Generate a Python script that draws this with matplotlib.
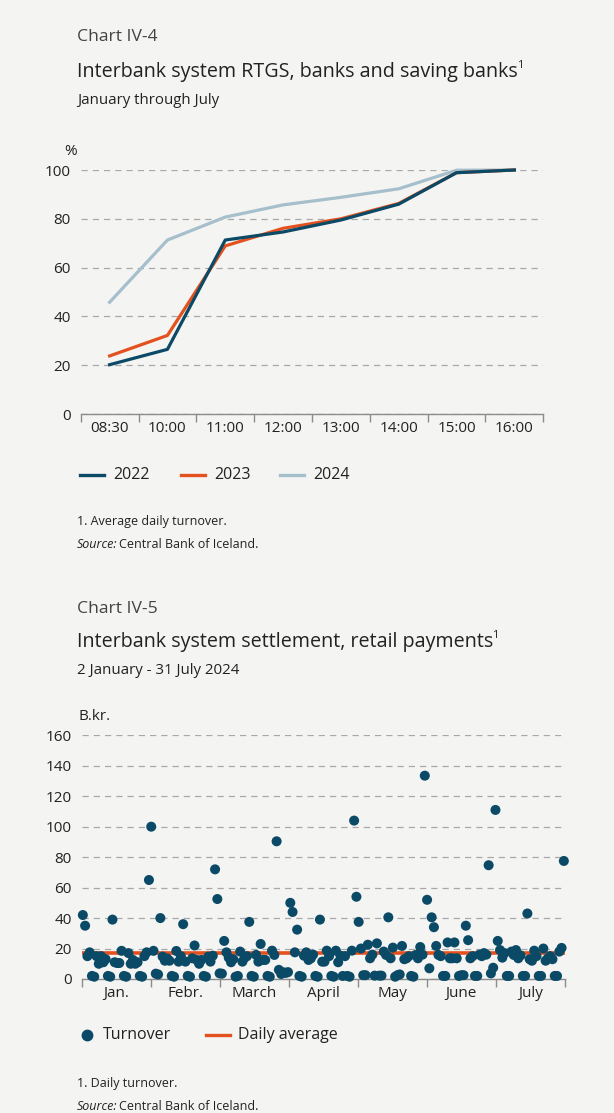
import numpy as np
import pandas as pd
import matplotlib
matplotlib.use("Agg")
import matplotlib.pyplot as plt
from matplotlib.lines import Line2D

plt.rcParams['font.family'] = ['Open Sans', 'DejaVu Sans']

BG = '#f4f4f2'
DARK = '#0b4a66'
ORANGE = '#e4511e'
LIGHT = '#a5bfcc'
GRID = '#a8a8a8'
AXIS = '#8c8c8c'
TEXT = '#222222'
SUBTEXT = '#444444'

# ---- Chart IV-4: cumulative share of daily RTGS turnover by time of day (%)
times = ['08:30', '10:00', '11:00', '12:00', '13:00', '14:00', '15:00', '16:00']
share_2022 = [20.2, 26.5, 71.3, 74.6, 79.5, 86.0, 98.9, 100.0]
share_2023 = [23.8, 32.2, 68.9, 76.1, 80.0, 86.3, 98.9, 100.0]
share_2024 = [45.8, 71.3, 80.7, 85.7, 88.8, 92.3, 99.9, 100.0]

# ---- Chart IV-5: daily retail settlement turnover, 2 Jan - 31 Jul 2024 (B.kr.)
turnover_jan = [42, 35, 15, 17.5, 2, 1.5, 15, 10, 15, 11, 13, 2, 1.5, 39, 11,
                10.5, 10.5, 18.5, 2, 1.5, 17, 10, 12.5, 10, 11, 2, 1.5, 15, 17.5, 65]
turnover_feb = [100, 18.5, 3.5, 3, 40, 14.7, 12, 13.5, 12, 2, 1.5, 18.4, 11.4, 15,
                36, 11.4, 2, 1.5, 13.6, 22, 12.5, 10, 12.5, 2, 1.5, 14.7, 11.4, 15.3, 72]
turnover_mar = [52.5, 3.7, 3.5, 25, 17.5, 14, 11, 13, 1.5, 2, 18, 11.4, 14, 15, 37.5,
                2, 1.5, 15.8, 11.4, 23, 12.5, 12.5, 2, 1.5, 18.6, 15.8, 90.4, 6, 3.3, 4.4, 4]
turnover_apr = [4.5, 50, 44, 17.5, 32.4, 2, 1.5, 15.3, 17.5, 12.5, 13.5, 16, 2, 1.5,
                39, 11.4, 11.4, 18.6, 15, 2, 1.5, 18.6, 11, 15.3, 2, 15, 2, 1.5, 18.6, 104]
turnover_may = [54, 37.5, 20, 2.5, 2.5, 22.5, 13.6, 16, 2.2, 23.4, 2.2, 2.2, 18, 15.8,
                40.5, 13.6, 20.6, 1.5, 2.5, 3, 21.7, 13, 13.6, 15, 2, 1.5, 15.8, 13.6,
                21, 16, 133.5]
turnover_jun = [52, 7, 40.5, 34, 21.7, 15.8, 15, 2, 2, 24, 13.6, 13.6, 24, 13.6, 2,
                2.5, 2.5, 35, 25.5, 13.6, 15, 2, 2, 16, 15, 17, 16, 74.7, 3.7, 7.4]
turnover_jul = [111, 25, 19, 14, 17, 2, 2, 18, 15.8, 19, 13.6, 15.5, 2, 2, 43, 13, 12,
                18.6, 15, 2, 2, 20, 12, 13.6, 15, 13, 2, 2, 18, 20.4, 77.5]
months = ['Jan.', 'Febr.', 'March', 'April', 'May', 'June', 'July']

turnover = np.array(turnover_jan + turnover_feb + turnover_mar + turnover_apr +
                    turnover_may + turnover_jun + turnover_jul)
days = pd.date_range('2024-01-02', '2024-07-31', freq='D')
n_days = len(days)
daily_average = turnover.mean()

W, H = 614, 1113
fig = plt.figure(figsize=(W / 100, H / 100), dpi=100, facecolor=BG)


def px(x, y):
    return x / W, 1 - y / H


def style_axes(ax):
    ax.set_facecolor(BG)
    for side in ('top', 'right', 'left'):
        ax.spines[side].set_visible(False)
    ax.spines['bottom'].set_color(AXIS)
    ax.spines['bottom'].set_linewidth(1.0)
    ax.tick_params(axis='y', length=0, pad=7, labelsize=11, labelcolor=TEXT)
    ax.tick_params(axis='x', which='major', length=6, color=AXIS, width=1.0,
                   labelbottom=False)
    ax.tick_params(axis='x', which='minor', length=0, pad=5, labelsize=11,
                   labelcolor=TEXT)
    ax.yaxis.grid(True, color=GRID, linestyle=(0, (5, 4)), linewidth=0.9)
    ax.set_axisbelow(True)


def title_with_note(y, text, size=14.2):
    t = fig.text(*px(77, y), text, fontsize=size, color=TEXT, va='center')
    fig.canvas.draw()
    bb = t.get_window_extent()
    fig.text((bb.x1 - 1) / W, 1 - (y - 6) / H, '1', fontsize=8, color=TEXT,
             va='center')


def source_note(y):
    fig.text(*px(77, y), 'Source:', fontsize=9, color=TEXT, va='center',
             style='italic')
    fig.text(*px(119, y), 'Central Bank of Iceland.', fontsize=9, color=TEXT,
             va='center')


# ---------------- top panel ----------------
fig.text(*px(77, 37), 'Chart IV-4', fontsize=12.6, color=SUBTEXT, va='center')
title_with_note(72, 'Interbank system RTGS, banks and saving banks')
fig.text(*px(77, 100), 'January through July', fontsize=10.8, color=TEXT, va='center')

l1, t1, r1, b1 = 80.7, 170, 543.3, 414
ax1 = fig.add_axes([l1 / W, 1 - b1 / H, (r1 - l1) / W, (b1 - t1) / H])
style_axes(ax1)
xpos = np.arange(len(times))
ax1.plot(xpos, share_2024, color=LIGHT, lw=2.3, clip_on=False, zorder=3)
ax1.plot(xpos, share_2023, color=ORANGE, lw=2.3, clip_on=False, zorder=4)
ax1.plot(xpos, share_2022, color=DARK, lw=2.3, clip_on=False, zorder=5)
ax1.set_xlim(-0.5, len(times) - 0.5)
ax1.set_ylim(0, 100)
ax1.set_yticks(np.arange(0, 101, 20))
ax1.set_xticks(np.arange(-0.5, len(times), 1.0))
ax1.set_xticks(xpos, minor=True)
ax1.set_xticklabels(times, minor=True)
fig.text(*px(64, 152), '%', fontsize=11, color=TEXT, va='center')

# legend
for x0, col, lab in [(80, DARK, '2022'), (181, ORANGE, '2023'), (280, LIGHT, '2024')]:
    fig.add_artist(Line2D([x0 / W, (x0 + 24) / W], [1 - 475 / H] * 2,
                          color=col, lw=2.4, transform=fig.transFigure))
    fig.text(*px(x0 + 33, 475), lab, fontsize=11.5, color=TEXT, va='center')

fig.text(*px(77, 522), '1. Average daily turnover.', fontsize=9, color=TEXT,
         va='center')
source_note(544)

# ---------------- bottom panel ----------------
fig.text(*px(77, 609), 'Chart IV-5', fontsize=12.6, color=SUBTEXT, va='center')
title_with_note(642, 'Interbank system settlement, retail payments')
fig.text(*px(77, 671), '2 January - 31 July 2024', fontsize=10.8, color=TEXT,
         va='center')

l2, t2, r2, b2 = 81.7, 735.3, 565, 979
ax2 = fig.add_axes([l2 / W, 1 - b2 / H, (r2 - l2) / W, (b2 - t2) / H])
style_axes(ax2)
xday = np.arange(n_days) + 0.5
ax2.axhline(daily_average, color=ORANGE, lw=2.6, zorder=2)
ax2.scatter(xday, turnover, s=52, color=DARK, edgecolors='none', zorder=3,
            clip_on=False)
ax2.set_xlim(0, n_days)
ax2.set_ylim(0, 160)
ax2.set_yticks(np.arange(0, 161, 20))
bounds = np.linspace(0, n_days, len(months) + 1)
ax2.set_xticks(bounds)
ax2.set_xticks((bounds[:-1] + bounds[1:]) / 2, minor=True)
ax2.set_xticklabels(months, minor=True)
fig.text(*px(78, 717), 'B.kr.', fontsize=11, color=TEXT, va='center')

# legend
fig.add_artist(Line2D([87 / W], [1 - 1035 / H], marker='o', markersize=7.5,
                      color=DARK, lw=0, transform=fig.transFigure))
fig.text(*px(103, 1035), 'Turnover', fontsize=11.5, color=TEXT, va='center')
fig.add_artist(Line2D([206 / W, 230 / W], [1 - 1035 / H] * 2, color=ORANGE,
                      lw=2.4, transform=fig.transFigure))
fig.text(*px(238, 1035), 'Daily average', fontsize=11.5, color=TEXT, va='center')

fig.text(*px(77, 1083), '1. Daily turnover.', fontsize=9, color=TEXT, va='center')
source_note(1106)

fig.savefig('out.png', dpi=100, facecolor=BG)
